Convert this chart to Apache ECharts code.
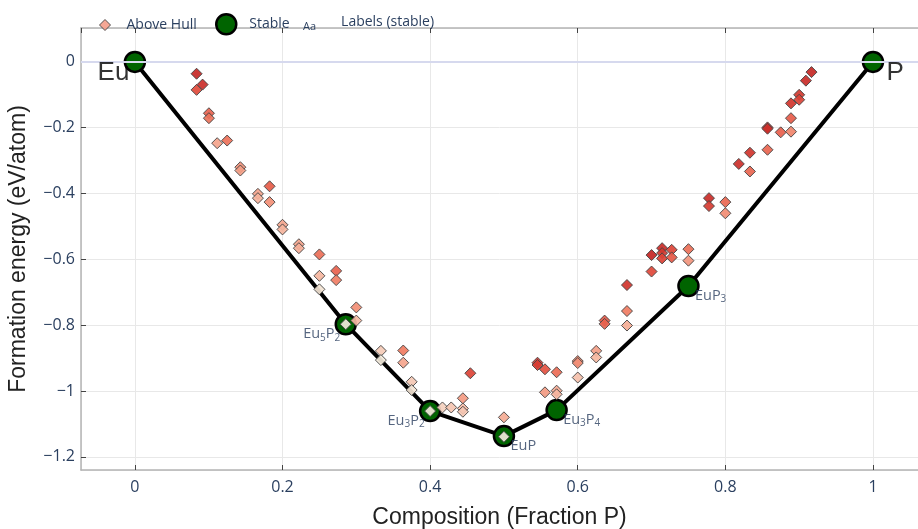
<!DOCTYPE html>
<html lang="en">
<head>
    <meta charset="UTF-8">
    <title>Eu-P convex hull</title>
    <script src="https://cdn.jsdelivr.net/npm/echarts@6/dist/echarts.min.js"></script>
    <style>
        body { margin: 0; background: #fff; }
        #hull { width: 918px; height: 529px; }
    </style>
</head>
<body>
<div id="hull"></div>
<script>

    // stable phases (on the hull)
    const stableNames = ['Eu', 'Eu5P2', 'Eu3P2', 'EuP', 'Eu3P4', 'EuP3', 'P'];
    const stableX = [0, 0.2857, 0.4, 0.5, 0.5714, 0.75, 1];
    const stableY = [0, -0.797, -1.061, -1.137, -1.058, -0.681, 0];

    // entries above the hull
    const aboveX = [
        0.0836, 0.0917, 0.0836, 0.1003, 0.1003, 0.125, 0.1115, 0.1429, 0.1429, 0.1825,
        0.1667, 0.1667, 0.1825, 0.2, 0.2, 0.2222, 0.2222, 0.25, 0.2727, 0.2727,
        0.25, 0.25, 0.3, 0.3, 0.2857, 0.3333, 0.3333, 0.3636, 0.3636, 0.375,
        0.375, 0.4, 0.4167, 0.4286, 0.4444, 0.4444, 0.4444, 0.4545, 0.5, 0.5,
        0.5455, 0.5455, 0.5556, 0.5714, 0.5556, 0.5714, 0.5714, 0.6, 0.6, 0.6,
        0.625, 0.625, 0.6364, 0.6364, 0.6667, 0.6667, 0.6667, 0.7, 0.7, 0.7143,
        0.7143, 0.7143, 0.7273, 0.7273, 0.75, 0.75, 0.7778, 0.7778, 0.8, 0.8,
        0.8182, 0.8333, 0.8333, 0.8571, 0.8571, 0.8571, 0.875, 0.8889, 0.8889, 0.8889,
        0.9, 0.9, 0.9091, 0.9167
    ];
    const aboveY = [
        -0.036, -0.069, -0.085, -0.156, -0.171, -0.239, -0.247, -0.320, -0.330, -0.378,
        -0.401, -0.414, -0.426, -0.495, -0.509, -0.554, -0.566, -0.585, -0.635, -0.663,
        -0.650, -0.691, -0.746, -0.786, -0.797, -0.878, -0.906, -0.877, -0.914, -0.972,
        -0.997, -1.061, -1.050, -1.050, -1.022, -1.053, -1.063, -0.946, -1.080, -1.139,
        -0.914, -0.921, -0.934, -0.943, -1.004, -0.999, -1.010, -0.909, -0.915, -0.959,
        -0.878, -0.898, -0.786, -0.796, -0.757, -0.801, -0.678, -0.587, -0.637, -0.566,
        -0.581, -0.597, -0.571, -0.594, -0.569, -0.604, -0.414, -0.438, -0.426, -0.460,
        -0.310, -0.276, -0.333, -0.199, -0.203, -0.267, -0.214, -0.126, -0.171, -0.212,
        -0.100, -0.115, -0.057, -0.031
    ];

    // energy above hull, used only for the colour scale
    function hullAt(x) {
        for (let i = 0; i < stableX.length - 1; i++) {
            if (x >= stableX[i] && x <= stableX[i + 1]) {
                const t = (x - stableX[i]) / (stableX[i + 1] - stableX[i]);
                return stableY[i] + t * (stableY[i + 1] - stableY[i]);
            }
        }
        return 0;
    }

    const aboveData = aboveX.map((x, i) => [x, aboveY[i], Math.max(0, aboveY[i] - hullAt(x))]);

    function richName(name) {
        return name.replace(/(\d+)/g, '{s|$1}');
    }

    const labelData = stableX.map((x, i) => {
        const name = stableNames[i];
        const element = !/\d/.test(name) && name !== 'EuP';
        const onLeft = x < 0.45;
        return {
            name: name,
            value: [x, stableY[i]],
            label: element ? {
                fontSize: 26,
                color: '#000',
                fontFamily: 'Liberation Sans, Arial, sans-serif',
                align: onLeft ? 'right' : 'left',
                offset: onLeft ? [-5, 11] : [14, 11]
            } : {
                align: onLeft ? 'right' : 'left',
                offset: onLeft ? [-5, 10] : [7, 10]
            }
        };
    });

    const tickStyle = {show: true, inside: true, length: 5, lineStyle: {color: '#444', width: 1}};
    const frameLine = {show: true, onZero: false, lineStyle: {color: '#b4b4b4', width: 1.5}};

    function fmtTick(v) {
        const r = parseFloat(v.toFixed(2));
        return r < 0 ? '\u2212' + Math.abs(r) : String(r);
    }

    const titleFont = {fontSize: 23, color: '#222', fontFamily: 'Liberation Sans, Arial, sans-serif'};

    const chart = echarts.init(document.getElementById('hull'));
    chart.setOption({
        animation: false,
        backgroundColor: '#fff',
        textStyle: {fontFamily: 'Open Sans, sans-serif'},
        grid: {left: 81, right: 0, top: 28, bottom: 59, outerBoundsMode: 'none'},
        legend: [{
            data: [{name: 'Above Hull', icon: 'diamond'}],
            padding: 0,
            left: 99, top: 18, itemWidth: 11, itemHeight: 11,
            itemStyle: {borderColor: '#444', borderWidth: 1, color: '#f4a08c'},
            textStyle: {fontSize: 14, color: '#2a3f5f', padding: [0, 0, 0, 11]}
        }, {
            data: [{name: 'Stable', icon: 'circle'}],
            padding: 0,
            left: 215, top: 13, itemWidth: 20, itemHeight: 20,
            itemStyle: {color: '#006400', borderColor: '#000', borderWidth: 2.5, opacity: 1},
            textStyle: {fontSize: 14, color: '#2a3f5f', padding: [0, 0, 0, 8]}
        }, {
            data: [{name: 'Labels (stable)', icon: 'circle'}],
            padding: 0,
            left: 297, top: 15, itemWidth: 1, itemHeight: 1,
            itemStyle: {opacity: 0},
            formatter: '{a|Aa}{b|Labels (stable)}',
            textStyle: {
                fontSize: 14, color: '#2a3f5f',
                rich: {
                    a: {fontSize: 11, color: '#2a3f5f', padding: [10, 25, 0, 0]},
                    b: {fontSize: 14, color: '#2a3f5f'}
                }
            }
        }],
        visualMap: {
            show: false,
            type: 'continuous',
            seriesIndex: 0,
            dimension: 2,
            min: 0,
            max: 0.2,
            inRange: {color: ['#f3ebdc', '#f5b39c', '#f07c62', '#e0483a', '#c42624']}
        },
        xAxis: [{
            type: 'value',
            min: -0.073,
            max: 1.061,
            splitNumber: 6,
            name: 'Composition (Fraction P)',
            nameLocation: 'middle',
            nameGap: 36,
            nameTextStyle: titleFont,
            axisLine: frameLine,
            axisTick: tickStyle,
            axisLabel: {
                fontSize: 16, color: '#2a3f5f', margin: 9,
                showMinLabel: false, showMaxLabel: false,
                formatter: fmtTick
            },
            splitLine: {show: true, lineStyle: {color: '#e8e8e8', width: 1}}
        }, {
            type: 'value',
            position: 'top',
            min: -0.073,
            max: 1.061,
            splitNumber: 6,
            axisLine: frameLine,
            axisTick: tickStyle,
            axisLabel: {show: false},
            splitLine: {show: false}
        }],
        yAxis: {
            type: 'value',
            min: -1.24,
            max: 0.103,
            splitNumber: 7,
            name: 'Formation energy (eV/atom)',
            nameLocation: 'middle',
            nameGap: 51,
            nameTextStyle: titleFont,
            axisLine: frameLine,
            axisTick: tickStyle,
            axisLabel: {
                fontSize: 16, color: '#2a3f5f', margin: 6,
                showMinLabel: false, showMaxLabel: false,
                formatter: fmtTick
            },
            splitLine: {show: true, lineStyle: {color: '#e8e8e8', width: 1}}
        },
        series: [{
            name: 'Above Hull',
            type: 'scatter',
            symbol: 'diamond',
            symbolSize: 11,
            z: 4,
            itemStyle: {borderColor: '#444', borderWidth: 1, opacity: 0.92},
            data: aboveData
        }, {
            name: 'hull',
            type: 'line',
            showSymbol: false,
            silent: true,
            z: 2,
            lineStyle: {color: '#000', width: 4},
            data: stableX.map((x, i) => [x, stableY[i]]),
            markLine: {
                silent: true,
                symbol: 'none',
                label: {show: false},
                lineStyle: {color: '#d6d9ee', width: 2, type: 'solid'},
                data: [{yAxis: 0}]
            }
        }, {
            name: 'Stable',
            type: 'scatter',
            symbol: 'circle',
            symbolSize: 20,
            z: 3,
            itemStyle: {color: '#006400', borderColor: '#000', borderWidth: 2.5, opacity: 1},
            data: stableX.map((x, i) => [x, stableY[i]])
        }, {
            name: 'Labels (stable)',
            type: 'scatter',
            symbolSize: 1,
            z: 5,
            itemStyle: {color: 'rgba(0,0,0,0)'},
            label: {
                show: true,
                position: [0, 0],
                verticalAlign: 'middle',
                fontSize: 14.5,
                lineHeight: 15,
                color: '#2a3f5f',
                formatter: p => richName(p.name),
                rich: {
                    s: {fontSize: 10, lineHeight: 10, color: '#2a3f5f', padding: [8, 0, 0, 0]}
                }
            },
            data: labelData
        }]
    });
</script>
</body>
</html>
